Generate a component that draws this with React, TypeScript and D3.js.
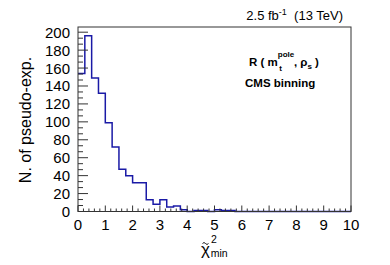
import React, { useEffect, useRef } from "react";
import * as d3 from "d3";

// histogram of chi2 min, 40 bins of width 0.25 from 0 to 10
const binEdges = d3.range(0, 10.0001, 0.25);
const counts = [
  154, 196, 149, 132, 99, 72, 47, 40, 32, 32, 13, 8, 13, 5, 6, 2, 0, 1, 1, 0,
  2, 1, 1, 0, 0, 0, 0, 0, 0, 0, 0, 0, 0, 0, 0, 0, 0, 0, 0, 0,
];
const xTicks = [0, 1, 2, 3, 4, 5, 6, 7, 8, 9, 10];
const yTicks = [0, 20, 40, 60, 80, 100, 120, 140, 160, 180, 200];

const W = 390;
const H = 265;
const FONT = "'Liberation Sans', Arial, sans-serif";

const App = () => {
  const ref = useRef<SVGSVGElement>(null);

  useEffect(() => {
    const svg = d3.select(ref.current);
    svg.selectAll("*").remove();

    const margin = { top: 27, right: 39, bottom: 53.5, left: 78 };
    const x0 = margin.left,
      x1 = W - margin.right,
      y0 = H - margin.bottom,
      y1 = margin.top;

    const x = d3.scaleLinear().domain([0, 10]).range([x0, x1]);
    const y = d3.scaleLinear().domain([0, d3.max(counts)! * 1.05]).range([y0, y1]);

    svg.append("rect").attr("width", W).attr("height", H).attr("fill", "#fff");

    // histogram step line
    const pts: [number, number][] = [];
    counts.forEach((c, i) => {
      pts.push([x(binEdges[i]), y(c)]);
      pts.push([x(binEdges[i + 1]), y(c)]);
    });
    svg
      .append("path")
      .attr("d", d3.line()(pts))
      .attr("fill", "none")
      .attr("stroke", "#1a1aa6")
      .attr("stroke-width", 1.5);

    const ax = svg.append("g").attr("stroke", "#333").attr("stroke-width", 1);

    // x ticks
    d3.range(0, 10.0001, 0.2).forEach((v) => {
      const major = Math.abs(v - Math.round(v)) < 1e-6;
      const len = major ? 6 : 3;
      ax.append("line")
        .attr("x1", x(v)).attr("x2", x(v))
        .attr("y1", y0).attr("y2", y0 - len);
    });
    // y ticks (3 subdivisions)
    d3.range(0, 205, 20 / 3).forEach((v, i) => {
      const major = i % 3 === 0;
      const len = major ? 10 : 5;
      ax.append("line")
        .attr("x1", x0).attr("x2", x0 + len)
        .attr("y1", y(v)).attr("y2", y(v));
    });

    // frame
    svg
      .append("rect")
      .attr("x", x0)
      .attr("y", y1)
      .attr("width", x1 - x0)
      .attr("height", y0 - y1)
      .attr("fill", "none")
      .attr("stroke", "#333")
      .attr("stroke-width", 1);

    // tick labels
    svg
      .append("g")
      .selectAll("text")
      .data(xTicks)
      .join("text")
      .attr("x", (d) => x(d))
      .attr("y", 230)
      .attr("text-anchor", "middle")
      .attr("font-size", 15)
      .text((d) => d);
    svg
      .append("g")
      .selectAll("text")
      .data(yTicks)
      .join("text")
      .attr("x", 70)
      .attr("y", (d) => y(d) + 5.5)
      .attr("text-anchor", "end")
      .attr("font-size", 15)
      .text((d) => d);

    // y title
    svg
      .append("text")
      .attr("transform", "translate(31,120) rotate(-90)")
      .attr("text-anchor", "middle")
      .attr("font-size", 16)
      .text("N. of pseudo-exp.");

    // x title
    const xt = svg.append("text").attr("x", 201).attr("y", 255).attr("font-size", 17);
    xt.append("tspan").text("\u03c7");
    xt.append("tspan").attr("font-size", 10.5).attr("dx", 1).attr("dy", -12).text("2");
    xt.append("tspan").attr("font-size", 10.5).attr("dx", -6).attr("dy", 14).text("min");
    // tilde over chi
    svg
      .append("path")
      .attr("d", "M202.5,243.5 q1.5,-2 3,0 t3,0")
      .attr("fill", "none")
      .attr("stroke", "#000")
      .attr("stroke-width", 0.9);

    // lumi label
    const lt = svg
      .append("text")
      .attr("x", 343)
      .attr("y", 20)
      .attr("text-anchor", "end")
      .attr("font-size", 13);
    lt.append("tspan").text("2.5 fb");
    lt.append("tspan").attr("font-size", 9).attr("dy", -5).text("-1");
    lt.append("tspan").attr("dy", 5).text("\u00a0 (13 TeV)");

    // legend text
    const r = svg
      .append("text")
      .attr("x", 249)
      .attr("y", 66)
      .attr("font-size", 11.5)
      .attr("font-weight", "bold");
    r.append("tspan").text("R (\u00a0m");
    r.append("tspan").attr("font-size", 8).attr("dy", -9).text("pole");
    r.append("tspan").attr("font-size", 8).attr("dx", -15).attr("dy", 14).text("t");
    r.append("tspan").attr("dx", 12).attr("dy", -5).text(",\u00a0\u03c1");
    r.append("tspan").attr("font-size", 8).attr("dy", 3).text("s");
    r.append("tspan").attr("dy", -3).text("\u00a0)");

    svg
      .append("text")
      .attr("x", 245)
      .attr("y", 87)
      .attr("font-size", 11.5)
      .attr("font-weight", "bold")
      .text("CMS binning");
  }, []);

  return (
    <svg
      ref={ref}
      width={W}
      height={H}
      style={{ position: "absolute", left: 0, top: 0, fontFamily: FONT }}
    ></svg>
  );
};

export default App;
